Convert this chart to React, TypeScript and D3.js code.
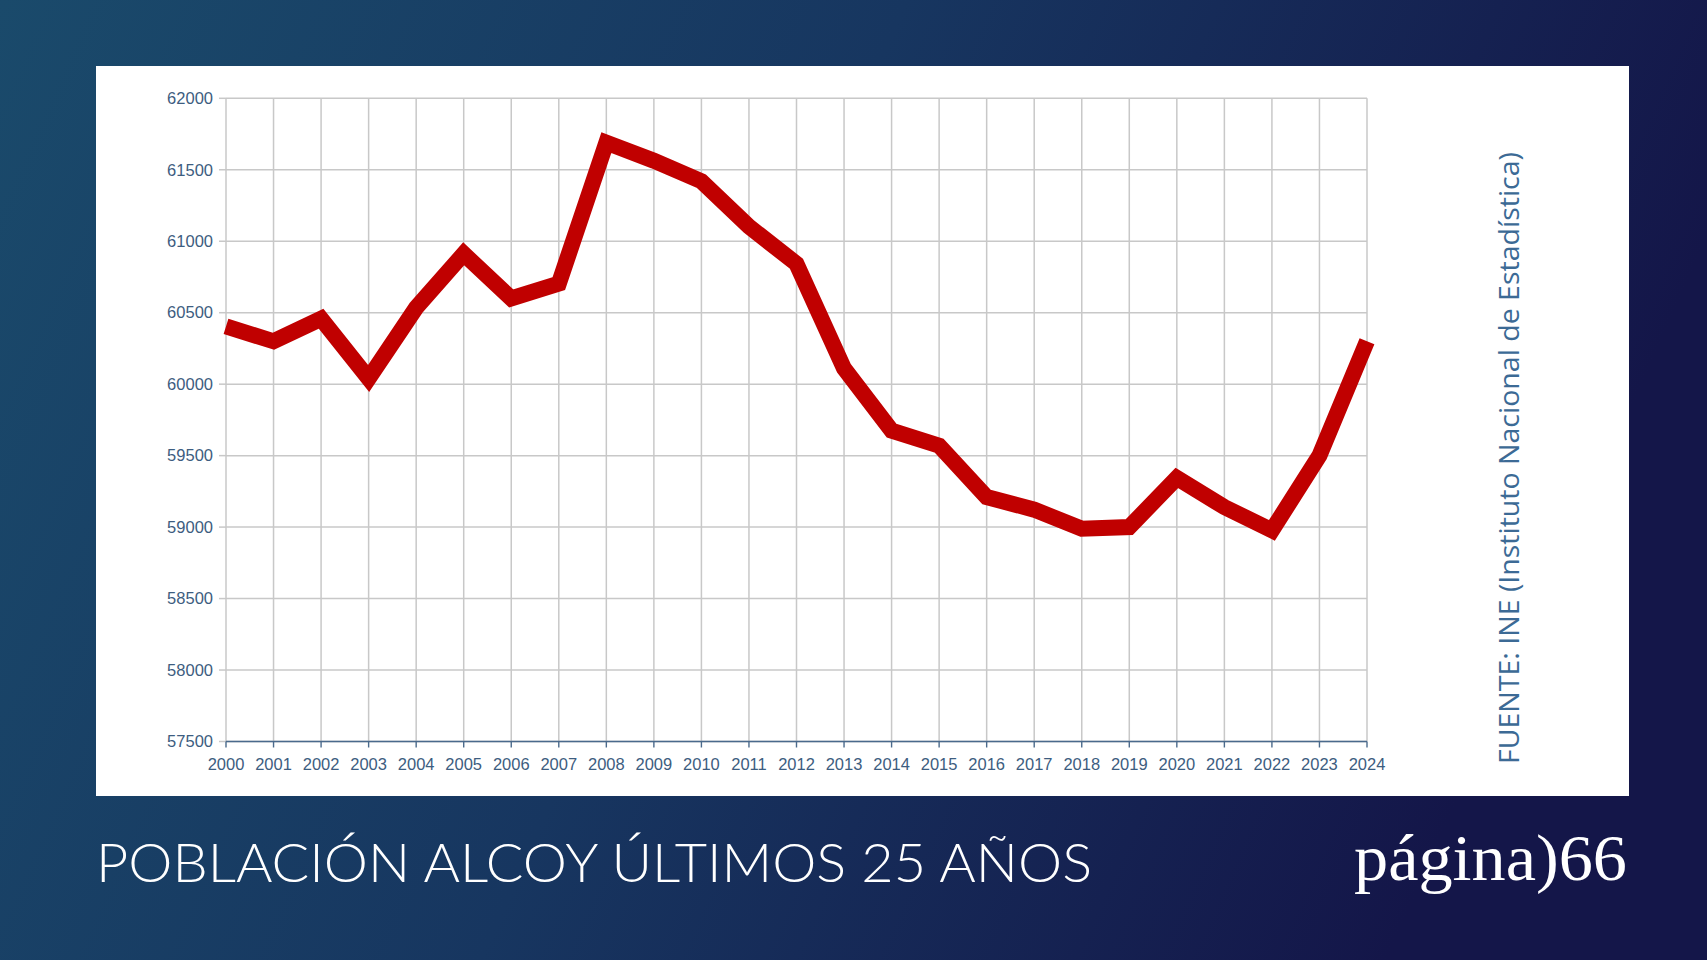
import React from "react";
import * as d3 from "d3";

const years: number[] = [2000, 2001, 2002, 2003, 2004, 2005, 2006, 2007, 2008, 2009, 2010, 2011, 2012, 2013, 2014, 2015, 2016, 2017, 2018, 2019, 2020, 2021, 2022, 2023, 2024];
const population: number[] = [60404, 60300, 60458, 60040, 60535, 60912, 60600, 60703, 61690, 61563, 61420, 61103, 60842, 60110, 59675, 59570, 59210, 59122, 58989, 59000, 59344, 59140, 58977, 59500, 60300];
const yTicks: number[] = [57500, 58000, 58500, 59000, 59500, 60000, 60500, 61000, 61500, 62000];
const title = "POBLACIÓN ALCOY ÚLTIMOS 25 AÑOS";
const source = "FUENTE: INE (Instituto Nacional de Estadística)";
const brand = "página)66";

const W = 1707;
const H = 960;

export default function App() {
  const x = d3.scaleLinear().domain([2000, 2024]).range([226, 1367]);
  const y = d3.scaleLinear().domain([57500, 62000]).range([741.5, 98.3]);
  const line = d3
    .line<number>()
    .x((_, i) => x(years[i]))
    .y((d) => y(d));
  const labelColor = "#3d5d80";
  const gridColor = "#c8c8c8";

  return (
    <svg
      width={W}
      height={H}
      viewBox={`0 0 ${W} ${H}`}
      style={{ position: "absolute", left: 0, top: 0, display: "block" }}
    >
      <defs>
        <linearGradient id="bg" x1="0" y1="0" x2="1" y2="0.25">
          <stop offset="0" stopColor="#1a4a6b" />
          <stop offset="0.5" stopColor="#173660" />
          <stop offset="1" stopColor="#141649" />
        </linearGradient>
      </defs>
      <rect x={0} y={0} width={W} height={H} fill="url(#bg)" />
      <rect x={96} y={66} width={1533} height={730} fill="#ffffff" />

      {/* grid */}
      {yTicks.map((t) => (
        <line key={"h" + t} x1={x(2000)} x2={x(2024)} y1={y(t)} y2={y(t)} stroke={gridColor} strokeWidth={1.5} />
      ))}
      {yTicks.map((t) => (
        <line key={"ht" + t} x1={x(2000) - 7} x2={x(2000)} y1={y(t)} y2={y(t)} stroke={gridColor} strokeWidth={1.5} />
      ))}
      {years.map((yr) => (
        <line key={"v" + yr} x1={x(yr)} x2={x(yr)} y1={y(62000)} y2={y(57500)} stroke={gridColor} strokeWidth={1.5} />
      ))}
      {/* x axis */}
      <line x1={x(2000)} x2={x(2024)} y1={y(57500)} y2={y(57500)} stroke="#4a6a8c" strokeWidth={1.6} />
      {years.map((yr) => (
        <line key={"xt" + yr} x1={x(yr)} x2={x(yr)} y1={y(57500)} y2={y(57500) + 6} stroke="#4a6a8c" strokeWidth={1.4} />
      ))}
      {/* labels */}
      {yTicks.map((t) => (
        <text
          key={"yl" + t}
          x={213}
          y={y(t)}
          dy="0.35em"
          textAnchor="end"
          fontFamily="'Liberation Sans', Arial, sans-serif"
          fontSize={16.5}
          fill={labelColor}
        >
          {t}
        </text>
      ))}
      {years.map((yr) => (
        <text
          key={"xl" + yr}
          x={x(yr)}
          y={770}
          textAnchor="middle"
          fontFamily="'Liberation Sans', Arial, sans-serif"
          fontSize={16.5}
          fill={labelColor}
        >
          {yr}
        </text>
      ))}

      {/* data line */}
      <path
        d={line(population) || ""}
        fill="none"
        stroke="#c00000"
        strokeWidth={16}
        strokeLinejoin="miter"
        strokeMiterlimit={4}
        strokeLinecap="butt"
      />

      {/* source */}
      <text
        transform="translate(1519,764) rotate(-90)"
        x={0}
        y={0}
        fontFamily="'Open Sans', sans-serif"
        fontSize={27}
        fill="#3c6a95"
        textLength={612}
        lengthAdjust="spacingAndGlyphs"
      >
        {source}
      </text>

      {/* title */}
      <text
        x={96}
        y={882}
        fontFamily="Lato, sans-serif"
        fontWeight={300}
        fontSize={54}
        fill="#ffffff"
        textLength={996}
        lengthAdjust="spacingAndGlyphs"
      >
        {title}
      </text>

      {/* brand */}
      <text
        x={1354}
        y={880}
        fontFamily="'Liberation Serif', serif"
        fontSize={66}
        fill="#ffffff"
        textLength={273}
        lengthAdjust="spacingAndGlyphs"
      >
        {brand}
      </text>
    </svg>
  );
}
